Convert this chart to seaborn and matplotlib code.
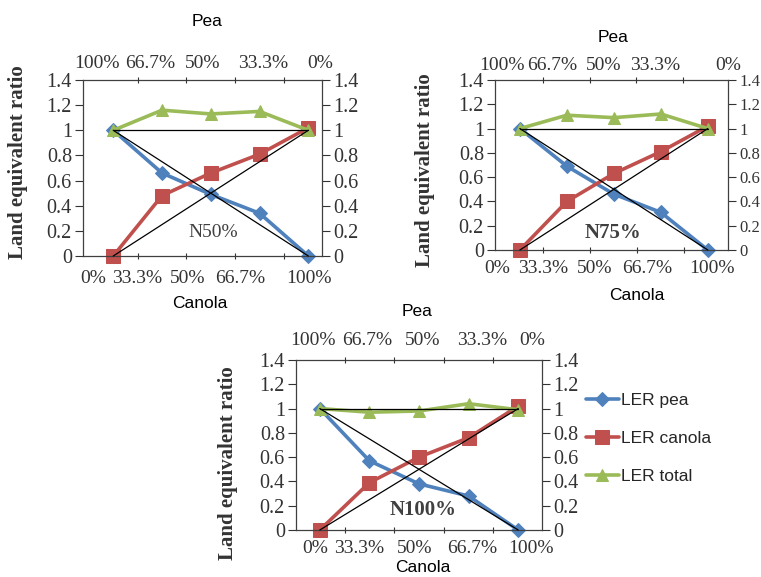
import numpy as np
import pandas as pd
import matplotlib
matplotlib.use('Agg')
import matplotlib.pyplot as plt
import seaborn as sns

# data
canola_share = ['0%', '33.3%', '50%', '66.7%', '100%']
pea_share = ['100%', '66.7%', '50%', '33.3%', '0%']

ler_pea_n50 = [1.0, 0.66, 0.49, 0.34, 0.0]
ler_canola_n50 = [0.0, 0.48, 0.66, 0.81, 1.02]
ler_total_n50 = [1.0, 1.16, 1.13, 1.15, 1.0]

ler_pea_n75 = [1.0, 0.69, 0.46, 0.31, 0.0]
ler_canola_n75 = [0.0, 0.40, 0.63, 0.81, 1.02]
ler_total_n75 = [1.0, 1.11, 1.09, 1.12, 1.0]

ler_pea_n100 = [1.0, 0.57, 0.38, 0.28, 0.0]
ler_canola_n100 = [0.0, 0.39, 0.60, 0.76, 1.02]
ler_total_n100 = [1.0, 0.97, 0.98, 1.04, 0.99]

y_ticks = [0, 0.2, 0.4, 0.6, 0.8, 1, 1.2, 1.4]

sns.set_style('white')
plt.rcParams['font.family'] = ['Liberation Serif', 'DejaVu Serif']

W, H = 761, 577
BLUE, RED, GREEN = '#4F81BD', '#C0504D', '#9BBB59'
TXT = '#333333'
x_pos = np.arange(len(canola_share))

fig = plt.figure(figsize=(W / 100, H / 100), dpi=100)


def rect(l, t, r, b):
    return [l / W, 1 - b / H, (r - l) / W, (b - t) / H]


def ftext(x, y, s, **kw):
    fig.text(x / W, 1 - y / H, s, ha='center', va='center', **kw)


def draw_panel(box, xlim, bottom_at, top_at, pea, canola, total, tag, tag_xy,
               pea_xy, canola_xy, ylab_xy, tag_kw, pads, right_size=14.5):
    ax = fig.add_axes(rect(*box))
    df = pd.DataFrame({'x': x_pos, 'pea': pea, 'canola': canola, 'total': total})
    sns.lineplot(data=df, x='x', y='pea', ax=ax, color=BLUE, marker='D', markersize=7,
                 markeredgecolor=BLUE, lw=2.6, clip_on=False, label='LER pea')
    sns.lineplot(data=df, x='x', y='canola', ax=ax, color=RED, marker='s', markersize=10,
                 markeredgecolor=RED, lw=2.6, clip_on=False, label='LER canola')
    sns.lineplot(data=df, x='x', y='total', ax=ax, color=GREEN, marker='^', markersize=9,
                 markeredgecolor=GREEN, lw=2.6, clip_on=False, label='LER total')
    ends = x_pos[[0, -1]]
    for ys in ([1, 1], [1, 0], [0, 1]):
        ax.plot(ends, ys, color='black', lw=0.9, zorder=5, clip_on=False)

    ax.set_xlim(*xlim)
    ax.set_ylim(0, 1.4)
    ax.set_yticks(y_ticks)
    ax.set_yticklabels([f'{v:g}' for v in y_ticks])
    ax.tick_params(axis='y', left=True, right=True, labelleft=True, labelright=True,
                   direction='out', length=6, width=0.8, labelsize=14.5,
                   colors=TXT, pad=2)
    for t in ax.yaxis.get_major_ticks():
        t.label2.set_fontsize(right_size)
    ax.set_xticks(bottom_at)
    ax.set_xticklabels(canola_share)
    ax.set_xticks(x_pos[:-1] + 0.5, minor=True)
    ax.tick_params(axis='x', which='major', length=0, labelsize=14, colors=TXT,
                   pad=pads[0])
    ax.tick_params(axis='x', which='minor', bottom=True, length=5, direction='inout',
                   width=0.8, color=TXT)
    ax.set_xlabel('')
    ax.set_ylabel('Land equivalent ratio', fontsize=15, fontweight='bold', color=TXT)
    ax.yaxis.set_label_coords(*ylab_xy)
    for sp in ax.spines.values():
        sp.set_color('#404040')
        sp.set_linewidth(0.9)

    top = ax.twiny()
    top.set_xlim(*xlim)
    top.set_xticks(top_at)
    top.set_xticklabels(pea_share)
    top.set_xticks(x_pos[:-1] + 0.5, minor=True)
    top.tick_params(axis='x', which='major', length=0, labelsize=14, colors=TXT,
                    pad=pads[1])
    top.tick_params(axis='x', which='minor', top=True, length=5, direction='inout',
                    width=0.8, color=TXT)
    top.grid(False)
    for sp in top.spines.values():
        sp.set_visible(False)

    ftext(*pea_xy, 'Pea', family='Liberation Sans', fontsize=12.5, color='black')
    ftext(*canola_xy, 'Canola', family='Liberation Sans', fontsize=12.5, color='black')
    ftext(*tag_xy, tag, color='#404040', **tag_kw)
    return ax


ax1 = draw_panel((83, 80, 322, 256), (-0.62, 4.28),
                 [-0.42, 0.49, 1.53, 2.6, 4.01], [-0.33, 0.75, 1.84, 3.07, 4.24],
                 ler_pea_n50, ler_canola_n50, ler_total_n50,
                 'N50%', (213, 233), (207, 22), (200, 303), (-0.23, 0.534),
                 dict(fontsize=14), (10, 6))
ax1.get_legend().remove()

ax2 = draw_panel((495, 80, 728, 250), (-0.53, 4.43),
                 [-0.49, 0.49, 1.6, 2.72, 4.09], [-0.38, 0.70, 1.81, 2.91, 4.47],
                 ler_pea_n75, ler_canola_n75, ler_total_n75,
                 'N75%', (613, 233), (613, 38), (637, 295), (-0.257, 0.47),
                 dict(fontsize=15, fontweight='bold'), (7, 4), right_size=12)
ax2.get_legend().remove()

ax3 = draw_panel((296, 360, 542, 530), (-0.48, 4.48),
                 [-0.1, 0.79, 1.92, 3.07, 4.26], [-0.14, 0.95, 2.08, 3.27, 4.28],
                 ler_pea_n100, ler_canola_n100, ler_total_n100,
                 'N100%', (423, 510), (417, 312), (423, 568), (-0.235, 0.394),
                 dict(fontsize=15, fontweight='bold'), (7, 8))
ax3.legend(loc='upper left', bbox_to_anchor=(586 / W, 1 - 393 / H),
           bbox_transform=fig.transFigure, frameon=False, borderpad=0,
           borderaxespad=0, handlelength=1.9, handletextpad=0.1, labelspacing=1.3,
           prop={'family': 'Liberation Sans', 'size': 12.5})

fig.savefig('out.png', dpi=100)
